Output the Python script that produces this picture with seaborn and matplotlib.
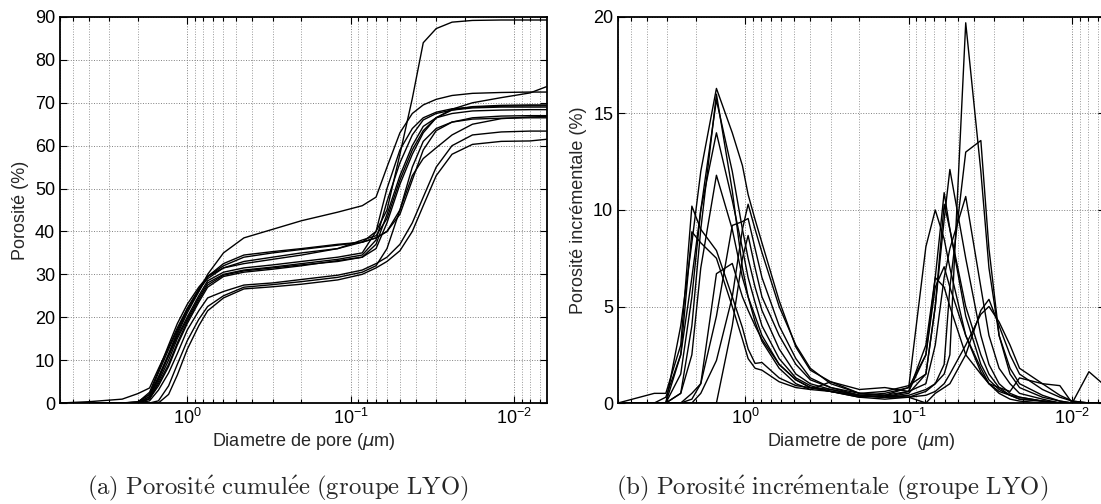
import numpy as np
import pandas as pd
import matplotlib
matplotlib.use("Agg")
import matplotlib.pyplot as plt
import seaborn as sns

# pore diameters (um) for the cumulative curves
diam_cum = [6.0, 4.0, 2.5, 2.0, 1.7, 1.5, 1.3, 1.15, 1.0, 0.85, 0.75, 0.6, 0.45, 0.3,
            0.2, 0.12, 0.085, 0.07, 0.06, 0.05, 0.042, 0.036, 0.03, 0.024, 0.018,
            0.012, 0.008, 0.0063]

cum_A = [0, 0, 0, 0.3, 2, 6, 11, 16, 21, 26, 30, 35, 38.5, 40.5, 42.5, 44.5, 46,
         48, 55, 63, 67.5, 69.5, 70.8, 71.7, 72.2, 72.4, 72.5, 72.5]
cum_B = [0, 0, 0, 0.2, 2.5, 7.5, 13.5, 18.5, 23, 27, 29.5, 32, 34, 35, 35.8, 36.8, 37.5,
         40, 45, 58, 71, 84, 87.3, 88.8, 89.2, 89.3, 89.3, 89.3]
cum_C = [0, 0.3, 0.9, 2.2, 3.5, 8, 13, 17.5, 22, 26.5, 29, 31.5, 33, 34, 35, 36, 38,
         39, 43, 52, 59, 63.5, 66.5, 68.5, 70, 71.2, 72.3, 73.8]
cum_D = [0, 0, 0, 0, 1.5, 5.5, 11, 15.5, 20, 25, 28.5, 30.5, 31.5, 32.2, 33, 34, 35,
         40, 50, 59, 64, 66.5, 67.8, 68.6, 69.0, 69.2, 69.3, 69.3]
cum_E = [0, 0, 0, 0, 1, 5, 10, 15, 19.5, 24.5, 28, 30, 31, 31.7, 32.5, 33.5, 34.5,
         38, 47, 56, 62.5, 66, 67.5, 68.3, 68.8, 69.0, 69.0, 69.0]
cum_F = [0, 0, 0, 0, 1, 4.5, 9, 14, 19, 24, 27.5, 29.8, 30.8, 31.5, 32.2, 33, 34,
         37, 44, 53, 60, 64.5, 66.5, 67.5, 68.1, 68.3, 68.4, 68.4]
cum_G = [0, 0, 0, 0.2, 2, 7, 12.5, 17, 22, 26.5, 29.5, 31.5, 32.5, 33.5, 34.5, 36, 37.5,
         38.5, 40, 44, 52, 59, 63.5, 65.5, 66.5, 66.9, 67.0, 67.0]
cum_H = [0, 0, 0, 0, 0, 0.5, 4, 9, 14.5, 19.5, 22.5, 25, 27, 27.6, 28.3, 29.3, 30.5,
         32, 36, 45, 55, 61, 64, 65.5, 66.2, 66.4, 66.5, 66.5]
cum_I = [0, 0, 0, 0, 0.5, 3, 7, 11.5, 17, 21.5, 24.5, 26, 27.5, 28, 28.8, 29.8, 31,
         32.5, 34, 37, 42, 48, 55, 60, 62.5, 63.2, 63.4, 63.4]
cum_J = [0, 0, 0, 0, 0, 0, 2, 6.5, 12.5, 18, 21.5, 24.5, 26.6, 27.1, 27.7, 28.7, 30,
         31.5, 33, 35.5, 40, 46, 53, 58, 60.3, 61, 61.1, 61.5]
cum_K = [0, 0, 0, 0, 1, 4, 8.5, 13.5, 18.5, 23.5, 27, 29.5, 30.5, 31.2, 32, 33.2, 34,
         36, 42, 51, 58, 63, 66.5, 68.3, 69.1, 69.4, 69.5, 69.5]
cum_L = [0, 0, 0, 0, 1.5, 6, 11.5, 16.5, 21.5, 26, 29.5, 32.5, 34.5, 35.3, 36, 37, 37.5,
         38.5, 40, 45, 53, 57, 59.5, 62.5, 65, 66.3, 66.7, 66.8]

# pore diameters (um) for the incremental curves
diam_inc = [6.0, 3.6, 3.06, 2.48, 2.12, 1.87, 1.5, 1.2, 1.04, 0.96, 0.87, 0.79, 0.62,
            0.49, 0.40, 0.30, 0.2, 0.14, 0.1, 0.0785, 0.0688, 0.0607, 0.056, 0.0448,
            0.0362, 0.0323, 0.028, 0.024, 0.021, 0.0152, 0.0119, 0.01, 0.0079, 0.0063]

inc_1 = [0, 0, 0, 4.0, 8.3, 12.0, 16.3, 14.0, 12.3, 10.8, 9.5, 8.3, 5.3, 2.9, 1.7, 1.1,
         0.5, 0.4, 0.8, 8.1, 10.0, 8.5, 7.0, 3.5, 1.6, 1.0, 0.6, 0.4, 0.3, 0.1, 0, 0, 0, 0]
inc_2 = [0, 0, 0, 1.5, 5.5, 10.0, 15.7, 12.0, 9.0, 7.5, 6.0, 4.8, 2.8, 1.5, 1.0, 0.7,
         0.4, 0.3, 0.5, 1.5, 5.0, 9.5, 12.1, 7.5, 3.5, 2.0, 1.0, 0.5, 0.3, 0.1, 0, 0, 0, 0]
inc_3 = [0, 0, 0, 2.5, 6.5, 10.0, 14.0, 10.5, 8.0, 6.5, 5.2, 4.0, 2.3, 1.3, 0.9, 0.6,
         0.3, 0.2, 0.3, 0.6, 1.0, 1.5, 2.5, 19.7, 12.0, 7.0, 3.5, 1.5, 0.8, 0.3, 0.1, 0, 0, 0]
inc_4 = [0, 0, 0, 0.5, 2.5, 7.0, 11.8, 9.0, 6.5, 5.5, 4.5, 3.5, 2.0, 1.2, 0.8, 0.6,
         0.35, 0.3, 0.4, 0.7, 1.0, 2.0, 6.0, 13.0, 13.6, 8.0, 3.5, 1.8, 1.0, 0.4, 0.1, 0, 0, 0]
inc_5 = [0, 0.5, 0.5, 3.0, 10.2, 9.0, 7.9, 5.5, 3.9, 2.8, 2.05, 2.1, 1.3, 0.9, 0.8, 0.7,
         0.4, 0.5, 0.8, 2.5, 6.5, 10.9, 9.0, 4.5, 2.0, 1.2, 0.7, 0.4, 0.2, 0.1, 0, 0, 0, 0]
inc_6 = [0, 0, 0.3, 2.5, 8.87, 8.3, 7.5, 5.0, 3.3, 2.3, 1.8, 1.7, 1.1, 0.8, 0.7, 0.6,
         0.3, 0.4, 0.6, 1.0, 3.0, 6.5, 8.0, 10.7, 6.0, 3.5, 1.8, 1.0, 0.5, 0.2, 0, 0, 0, 0]
inc_7 = [0, 0, 0, 0, 0.2, 1.0, 6.7, 7.23, 5.5, 4.8, 4.0, 3.3, 2.0, 1.2, 0.8, 0.6,
         0.4, 0.3, 0.3, 0, 0.5, 0.8, 1.0, 2.5, 4.8, 5.37, 4.0, 2.5, 1.5, 0.7, 0.3, 0.1, 0, 0]
inc_8 = [0, 0, 0, 0, 0, 0.5, 2.2, 5.5, 9.0, 10.3, 9.0, 7.8, 5.0, 3.0, 1.8, 1.0,
         0.5, 0.6, 0.9, 1.5, 5.0, 10.3, 9.0, 5.0, 2.5, 1.5, 0.8, 0.4, 0.2, 0.1, 0, 0, 0, 0]
inc_9 = [0, 0, 0, 0, 0.5, 1.0, 4.5, 9.2, 9.4, 9.56, 8.0, 6.5, 4.0, 2.3, 1.3, 0.8,
         0.4, 0.3, 0.6, 2.5, 6.0, 7.06, 6.0, 3.5, 1.8, 1.0, 0.5, 0.2, 0.1, 0, 0, 0, 0, 0]
inc_10 = [0, 0, 0, 0, 0, 0, 0, 4.0, 7.5, 8.68, 7.0, 5.5, 3.5, 2.0, 1.2, 0.8,
          0.5, 0.4, 0.3, 0.4, 0.6, 1.0, 1.5, 3.0, 4.6, 5.0, 4.2, 3.0, 1.8, 1.0, 0.4, 0.1, 0, 0]
inc_11 = [0, 0, 0, 0.5, 4.0, 9.0, 16.0, 11.0, 7.0, 5.5, 4.2, 3.2, 1.8, 1.0, 0.7, 1.1,
          0.7, 0.8, 0.6, 3.0, 6.5, 6.0, 5.0, 2.5, 1.5, 1.0, 0.8, 0.6, 1.3, 1.0, 0.9, 0, 1.62, 0.9]

cum_curves = [cum_A, cum_B, cum_C, cum_D, cum_E, cum_F, cum_G, cum_H, cum_I, cum_J, cum_K, cum_L]
inc_curves = [inc_1, inc_2, inc_3, inc_4, inc_5, inc_6, inc_7, inc_8, inc_9, inc_10, inc_11]

xlabel_a = r"Diametre de pore ($\mu$m)"
xlabel_b = r"Diametre de pore  ($\mu$m)"
ylabel_a = "Porosité (%)"
ylabel_b = "Porosité incrémentale (%)"
caption_a = r"$\mathrm{(a)\ Porosit\acute{e}\ cumul\acute{e}e\ (groupe\ LYO)}$"
caption_b = r"$\mathrm{(b)\ Porosit\acute{e}\ incr\acute{e}mentale\ (groupe\ LYO)}$"


def long_df(diam, curves):
    rows = []
    for i, c in enumerate(curves):
        for d, v in zip(diam, c):
            rows.append((i, d, v))
    return pd.DataFrame(rows, columns=["ech", "d", "v"])


sns.set_theme(style="white")
plt.rcParams["font.family"] = ["Liberation Sans", "DejaVu Sans"]
plt.rcParams["axes.edgecolor"] = "black"

fig = plt.figure(figsize=(11.01, 5.04), dpi=100)
ax1 = fig.add_axes([60 / 1101, 101 / 504, 487 / 1101, 386 / 504])
ax2 = fig.add_axes([618 / 1101, 101 / 504, 487 / 1101, 386 / 504])

sns.lineplot(data=long_df(diam_cum, cum_curves), x="d", y="v", units="ech",
             estimator=None, sort=False, color="black", lw=1.0, ax=ax1)
sns.lineplot(data=long_df(diam_inc, inc_curves), x="d", y="v", units="ech",
             estimator=None, sort=False, color="black", lw=1.0, ax=ax2)

for ax, ymax, ystep in [(ax1, 90, 10), (ax2, 20, 5)]:
    ax.set_xscale("log")
    ax.set_xlim(6.0, 0.0063)
    ax.set_ylim(0, ymax)
    ax.set_yticks(np.arange(0, ymax + 1, ystep))
    ax.grid(True, which="major", ls=":", color="0.5", lw=0.7)
    ax.grid(True, which="minor", axis="x", ls=":", color="0.6", lw=0.7)
    ax.tick_params(which="both", direction="in", top=True, right=True,
                   bottom=True, left=True, labelsize=13, colors="black")
    ax.tick_params(which="major", length=5, width=0.8)
    ax.tick_params(which="minor", length=3, width=0.8)
    for s in ax.spines.values():
        s.set_linewidth(1.3)
        s.set_color("black")

ax1.set_xlabel(xlabel_a, fontsize=13, labelpad=2)
ax2.set_xlabel(xlabel_b, fontsize=13, labelpad=2)
ax1.set_ylabel(ylabel_a, fontsize=13)
ax2.set_ylabel(ylabel_b, fontsize=13)

fig.text(278 / 1101, 1 - 488 / 504, caption_a, ha="center", va="center",
         fontsize=17.8, math_fontfamily="cm")
fig.text(832 / 1101, 1 - 488 / 504, caption_b, ha="center", va="center",
         fontsize=17.8, math_fontfamily="cm")

fig.savefig("out.png", dpi=100)
